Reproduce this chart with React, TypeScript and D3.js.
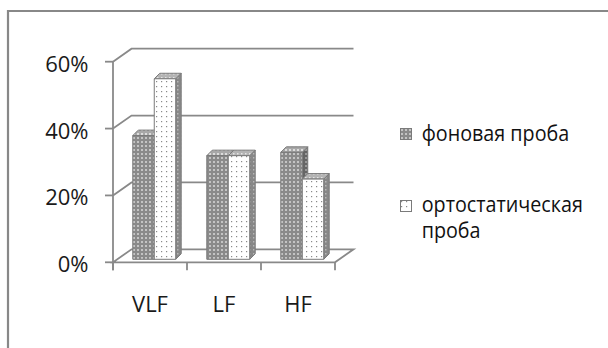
import React from "react";
import * as d3 from "d3";

const categories = ["VLF", "LF", "HF"];
const seriesNames = ["фоновая проба", "ортостатическая проба"];
const fonValues = [0.37, 0.31, 0.32];
const ortoValues = [0.54, 0.31, 0.24];
const yTicks = [0, 0.2, 0.4, 0.6];

const W = 608;
const H = 348;
const FONT = "'Open Sans', 'Noto Sans', sans-serif";

export default function App() {
  const y = d3.scaleLinear().domain([0, 0.6]).range([262.3, 61.7]);
  const x = d3.scaleBand().domain(categories).range([113, 335]);
  const bw = x.bandwidth();
  const xs = d3.scaleBand().domain(seriesNames).range([bw * 0.21, bw * 0.79]);
  const fmt = d3.format(".0%");

  const DX = 18.5, DY = -13;
  const p = 0.23;
  const BDX = 5.5, BDY = -5.5;
  const offX = DX * p, offY = DY * p;

  const grid = "#898989";
  const y0 = y(0);
  const xL = x.range()[0];
  const xR = x.range()[1];

  const series = [
    { name: seriesNames[0], values: fonValues, front: "url(#fonFront)", top: "url(#fonTop)", side: "url(#fonSide)" },
    { name: seriesNames[1], values: ortoValues, front: "url(#ortoFront)", top: "url(#ortoTop)", side: "url(#ortoSide)" },
  ];

  const bars: any[] = [];
  categories.forEach((c, ci) => {
    series.forEach((s) => {
      const v = s.values[ci];
      const x1 = (x(c) as number) + (xs(s.name) as number) + offX;
      const x2 = x1 + xs.bandwidth();
      const yb = y0 + offY;
      const yt = y(v) + offY;
      bars.push({ key: c + s.name, x1, x2, yb, yt, s });
    });
  });

  const line = d3.line();

  return (
    <svg width={W} height={H} style={{ position: "absolute", left: 0, top: 0, background: "#fff" }}>
      <defs>
        <pattern id="fonFront" width="4" height="4" patternUnits="userSpaceOnUse">
          <rect width="4" height="4" fill="#8a8a8a" />
          <rect x="1" y="1" width="2" height="2" fill="#c4c4c4" />
        </pattern>
        <pattern id="fonTop" width="4" height="4" patternUnits="userSpaceOnUse">
          <rect width="4" height="4" fill="#a8a8a8" />
          <rect x="1" y="1" width="2" height="2" fill="#dcdcdc" />
        </pattern>
        <pattern id="fonSide" width="4" height="4" patternUnits="userSpaceOnUse">
          <rect width="4" height="4" fill="#666" />
          <rect x="1" y="1" width="2" height="2" fill="#999" />
        </pattern>
        <pattern id="ortoFront" width="5" height="5" patternUnits="userSpaceOnUse">
          <rect width="5" height="5" fill="#ffffff" />
          <rect x="1" y="1" width="1.2" height="1.2" fill="#8a8a8a" />
        </pattern>
        <pattern id="ortoTop" width="4" height="4" patternUnits="userSpaceOnUse">
          <rect width="4" height="4" fill="#b4b4b4" />
          <rect x="1" y="1" width="1.5" height="1.5" fill="#e4e4e4" />
        </pattern>
        <pattern id="ortoSide" width="4" height="4" patternUnits="userSpaceOnUse">
          <rect width="4" height="4" fill="#888" />
          <rect x="1" y="1" width="1.5" height="1.5" fill="#b8b8b8" />
        </pattern>
      </defs>

      <path d={line([[8, H + 5], [8, 11], [W + 5, 11]]) as string} fill="none" stroke="#888" strokeWidth={2.2} />

      <path
        d={(line([[xL, y0], [xR, y0], [xR + DX, y0 + DY], [xL + DX, y0 + DY]]) as string) + "Z"}
        fill="none"
        stroke={grid}
        strokeWidth={1.8}
      />

      {yTicks.slice(1).map((t) => (
        <path
          key={"g" + t}
          d={line([[xL, y(t)], [xL + DX, y(t) + DY], [xR + DX, y(t) + DY]]) as string}
          fill="none"
          stroke={grid}
          strokeWidth={1.8}
        />
      ))}

      <line x1={xL} x2={xL} y1={y(0.6)} y2={y0 + 8} stroke={grid} strokeWidth={1.8} />
      {yTicks.map((t) => (
        <g key={"t" + t}>
          <line x1={xL - 8} x2={xL} y1={y(t)} y2={y(t)} stroke={grid} strokeWidth={1.8} />
          <text x={88.5} y={y(t) + 10} textAnchor="end" fontFamily={FONT} fontSize={22} fill="#1a1a1a">
            {fmt(t)}
          </text>
        </g>
      ))}

      {[...categories.map((c) => x(c) as number), xR].map((xx, i) => (
        <line key={"ct" + i} x1={xx} x2={xx} y1={y0} y2={y0 + 8} stroke={grid} strokeWidth={1.8} />
      ))}
      {categories.map((c) => (
        <text
          key={"cl" + c}
          x={(x(c) as number) + bw / 2}
          y={311.7}
          textAnchor="middle"
          fontFamily={FONT}
          fontSize={22}
          fill="#1a1a1a"
        >
          {c}
        </text>
      ))}

      {bars.map((b) => (
        <g key={b.key} stroke="#7a7a7a" strokeWidth={1} strokeLinejoin="round">
          <path
            d={(line([[b.x2, b.yb], [b.x2 + BDX, b.yb + BDY], [b.x2 + BDX, b.yt + BDY], [b.x2, b.yt]]) as string) + "Z"}
            fill={b.s.side}
          />
          <path
            d={(line([[b.x1, b.yt], [b.x1 + BDX, b.yt + BDY], [b.x2 + BDX, b.yt + BDY], [b.x2, b.yt]]) as string) + "Z"}
            fill={b.s.top}
          />
          <rect x={b.x1} y={b.yt} width={b.x2 - b.x1} height={b.yb - b.yt} fill={b.s.front} />
        </g>
      ))}

      <rect x={400.5} y={128.5} width={11} height={11} fill="url(#fonFront)" stroke="#7a7a7a" strokeWidth={1} />
      <rect x={400.5} y={200.5} width={11} height={11} fill="url(#ortoFront)" stroke="#7a7a7a" strokeWidth={1} />
      <g transform="translate(421.7,0) scale(0.94,1)" fontFamily={FONT} fontSize={21} fill="#111">
        <text x={0} y={141}>{seriesNames[0]}</text>
        <text x={0} y={211.7}>{seriesNames[1].split(" ")[0]}</text>
        <text x={0} y={238.3}>{seriesNames[1].split(" ")[1]}</text>
      </g>
    </svg>
  );
}
